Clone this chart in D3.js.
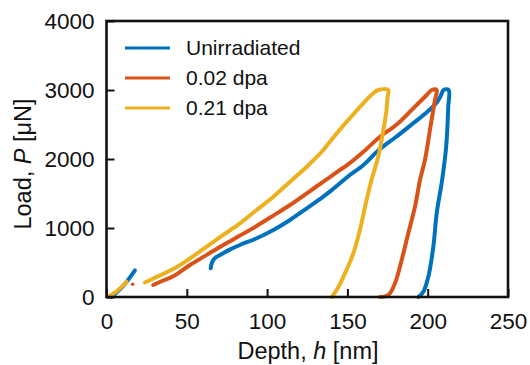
<!DOCTYPE html>
<html>
<head>
<meta charset="utf-8">
<script src="https://cdn.jsdelivr.net/npm/d3@7"></script>
<style>
  html, body { margin: 0; padding: 0; background: #fff; }
  svg { display: block; }
  text { font-family: "Liberation Sans", Arial, Helvetica, sans-serif; fill: #111; }
</style>
</head>
<body>
<svg id="chart" width="530" height="365"></svg>
<script>
// Load–depth nanoindentation curves, [depth nm, load µN] per recorded segment
const unirradiatedSegments = [
  [[3, 0], [6, 60], [10, 150], [14, 265], [17.7, 385]],
  [[64.9, 416], [65.4, 480], [66.5, 536], [68.5, 580], [70.7, 609], [77, 690], [83.1, 754],
   [93.5, 851], [103.9, 971], [114.3, 1116], [124.7, 1285], [135, 1454], [140, 1545],
   [145, 1640], [150, 1740], [160, 1913], [170, 2140], [180, 2315], [190, 2500], [200, 2690],
   [205, 2800], [208, 2910], [209.9, 3000], [213, 3000],
   [212.8, 2760], [211.5, 2180], [209, 1700], [205.6, 1213], [203.5, 729], [200.4, 294],
   [197.3, 77], [194.2, 0]]
];
const dpa002Segments = [
  [[16.3, 184]],
  [[29.1, 174], [35, 235], [41.6, 300], [52, 464], [62.4, 610], [72.7, 754], [83.1, 890],
   [93.5, 1030], [103.9, 1180], [114.3, 1333], [124.7, 1503], [135, 1671], [145.4, 1841],
   [150, 1915], [160, 2106], [170.3, 2323], [180.7, 2500], [191, 2734], [199.4, 2928],
   [202.5, 3000], [205.6, 3000],
   [204.5, 2855], [201.4, 2420], [198.3, 1986], [195.2, 1696], [192.1, 1309], [187.9, 923],
   [183.8, 536], [179.6, 198], [175.5, 29], [170.3, 0]]
];
const dpa021Segments = [
  [[1, 0], [4, 45], [8, 115], [12.6, 222]],
  [[24, 210], [31.3, 292], [41.6, 405], [52, 560], [62.4, 729], [72.7, 899], [83.1, 1068],
   [93.5, 1261], [103.9, 1454], [114.3, 1671], [124.7, 1888], [135, 2130], [139.1, 2251],
   [149.6, 2541], [159.9, 2807], [166.1, 2952], [169.2, 3000], [175.5, 3000],
   [175, 2900], [174.3, 2700], [172.4, 2420], [169.2, 2033], [165, 1696], [161, 1309],
   [157.8, 971], [153.7, 633], [148.5, 343], [143.3, 101], [140.2, 0]]
];

const seriesNames = ["Unirradiated", "0.02 dpa", "0.21 dpa"];
const seriesColors = ["#0072BD", "#D95319", "#EDB120"];
const seriesData = [unirradiatedSegments, dpa002Segments, dpa021Segments];

const xTicks = [0, 50, 100, 150, 200, 250];
const yTicks = [0, 1000, 2000, 3000, 4000];

const svg = d3.select("#chart");
const plotLeft = 106.5, plotRight = 508, plotTop = 21, plotBottom = 297;

const x = d3.scaleLinear().domain([0, 250]).range([plotLeft, plotRight]);
const y = d3.scaleLinear().domain([0, 4000]).range([plotBottom, plotTop]);

const line = d3.line()
  .x(d => x(d[0]))
  .y(d => y(d[1]))
  .curve(d3.curveCatmullRom.alpha(0.5));

// curves
seriesData.forEach((segments, i) => {
  const g = svg.append("g");
  segments.forEach(seg => {
    if (seg.length === 1) {
      g.append("circle")
        .attr("cx", x(seg[0][0])).attr("cy", y(seg[0][1]))
        .attr("r", 1.8).attr("fill", seriesColors[i]);
    } else {
      g.append("path")
        .datum(seg)
        .attr("d", line)
        .attr("fill", "none")
        .attr("stroke", seriesColors[i])
        .attr("stroke-width", 4)
        .attr("stroke-linejoin", "round")
        .attr("stroke-linecap", "round");
    }
  });
});

// axes with inward ticks
const fmt = d3.format("d");
const xAxis = svg.append("g")
  .attr("transform", `translate(0,${plotBottom})`)
  .call(d3.axisBottom(x).tickValues(xTicks).tickFormat(fmt)
    .tickSizeInner(-8).tickSizeOuter(0).tickPadding(16));
const yAxis = svg.append("g")
  .attr("transform", `translate(${plotLeft},0)`)
  .call(d3.axisLeft(y).tickValues(yTicks).tickFormat(fmt)
    .tickSizeInner(-8).tickSizeOuter(0).tickPadding(12));

[xAxis, yAxis].forEach(a => {
  a.select(".domain").remove();
  a.selectAll(".tick line").attr("stroke", "#111").attr("stroke-width", 2);
  a.selectAll(".tick text")
    .style("font-family", "'Liberation Sans', Arial, sans-serif")
    .attr("font-size", 22.5).attr("fill", "#111");
});
yAxis.selectAll(".tick text").attr("dy", "0.35em");

// frame
svg.append("rect")
  .attr("x", plotLeft).attr("y", plotTop)
  .attr("width", plotRight - plotLeft).attr("height", plotBottom - plotTop)
  .attr("fill", "none").attr("stroke", "#111").attr("stroke-width", 2.6);

// axis titles
const xTitle = svg.append("text")
  .attr("x", 308).attr("y", 359)
  .attr("text-anchor", "middle").attr("font-size", 23.5);
xTitle.append("tspan").text("Depth, ");
xTitle.append("tspan").attr("font-style", "italic").text("h");
xTitle.append("tspan").text(" [nm]");

const yTitle = svg.append("text")
  .attr("transform", "translate(31,164) rotate(-90)")
  .attr("text-anchor", "middle").attr("font-size", 23.5);
yTitle.append("tspan").text("Load, ");
yTitle.append("tspan").attr("font-style", "italic").text("P");
yTitle.append("tspan").text(" [μN]");

// legend
const legend = svg.append("g");
seriesNames.forEach((name, i) => {
  const ly = 48 + i * 30;
  legend.append("line")
    .attr("x1", 125).attr("x2", 170).attr("y1", ly).attr("y2", ly)
    .attr("stroke", seriesColors[i]).attr("stroke-width", 3);
  legend.append("text")
    .attr("x", 186).attr("y", ly).attr("dy", "0.35em")
    .attr("font-size", 21).text(name);
});
</script>
</body>
</html>
